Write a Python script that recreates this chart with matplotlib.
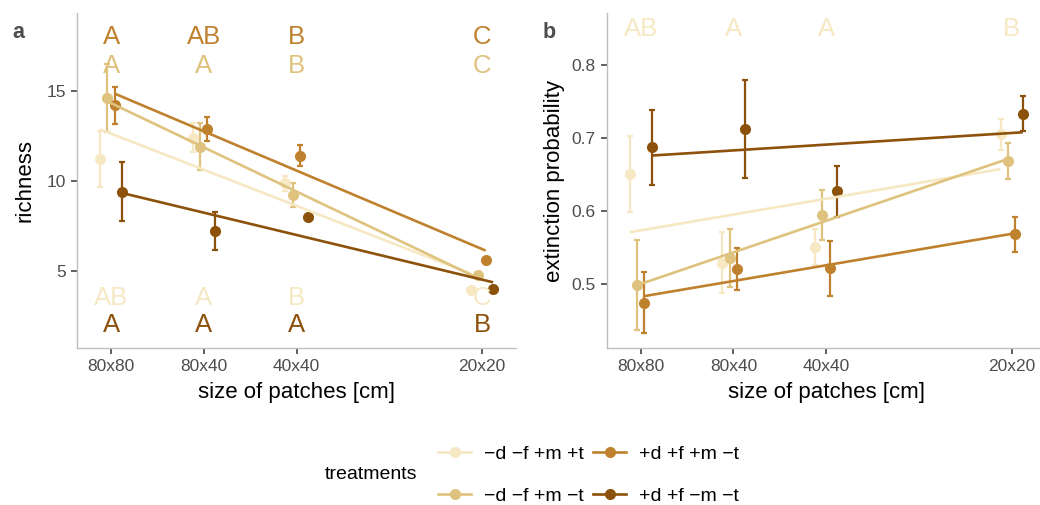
import numpy as np
import matplotlib
matplotlib.use("Agg")
import matplotlib.pyplot as plt
from matplotlib.lines import Line2D

plt.rcParams['font.family'] = ['Liberation Sans', 'DejaVu Sans']

# ---------------- data ----------------
sizes = ["80x80", "80x40", "40x40", "20x20"]
size_pos = [0, 1, 2, 4]            # log2 area steps
treatments = ["\u2212d \u2212f +m +t", "\u2212d \u2212f +m \u2212t",
              "+d +f +m \u2212t", "+d +f \u2212m \u2212t"]
colors = ["#F6E8C3", "#DFC27D", "#BF812D", "#8C510A"]
dodge = [-0.12, -0.04, 0.04, 0.12]

rich_mean = [
    [11.2, 12.4, 9.85, 3.95],
    [14.6, 11.9, 9.2, 4.75],
    [14.2, 12.9, 11.4, 5.6],
    [9.4, 7.2, 8.0, 4.0],
]
rich_err = [
    [1.55, 0.8, 0.4, 0.0],
    [1.9, 1.3, 0.65, 0.0],
    [1.03, 0.67, 0.58, 0.0],
    [1.62, 1.07, 0.0, 0.0],
]
ext_mean = [
    [0.650, 0.529, 0.550, 0.705],
    [0.498, 0.535, 0.594, 0.668],
    [0.474, 0.520, 0.521, 0.568],
    [0.687, 0.712, 0.627, 0.733],
]
ext_err = [
    [0.052, 0.042, 0.025, 0.021],
    [0.062, 0.040, 0.034, 0.025],
    [0.042, 0.029, 0.038, 0.024],
    [0.051, 0.067, 0.035, 0.024],
]

# letters: (treatment index, y position, labels)
rich_letters = [
    (2, 18.0, ["A", "AB", "B", "C"]),
    (1, 16.4, ["A", "A", "B", "C"]),
    (0, 3.5, ["AB", "A", "B", "C"]),
    (3, 2.0, ["A", "A", "A", "B"]),
]
ext_letters = [
    (0, 0.85, ["AB", "A", "A", "B"]),
]

# ---------------- figure ----------------
W, H = 1040, 505
fig = plt.figure(figsize=(W / 100, H / 100), dpi=100)

def ax_rect(l, r, t, b):
    return [l / W, 1 - b / H, (r - l) / W, (b - t) / H]

axA = fig.add_axes(ax_rect(77, 516, 13, 348))
axB = fig.add_axes(ax_rect(606.7, 1045.7, 13, 348))

def draw(ax, means, errs, letters, ylim, yticks, ylabel):
    for i in range(4):
        xs = np.array(size_pos) + dodge[i]
        m = np.array(means[i])
        e = np.array(errs[i])
        ax.errorbar(xs, m, yerr=e, fmt='none', ecolor=colors[i],
                    elinewidth=1.6, capsize=2.2, capthick=1.6, zorder=2)
        ax.plot(xs, m, 'o', color=colors[i], markersize=8, zorder=3,
                markeredgewidth=0)
    for i in range(4):
        slope, inter = np.polyfit(np.array(size_pos, float), np.array(means[i]), 1)
        xe = np.array([size_pos[0], size_pos[-1]], float)
        ax.plot(xe + dodge[i], inter + slope * xe, '-', color=colors[i],
                lw=1.9, zorder=4, solid_capstyle='butt')
    for (ti, yy, labs) in letters:
        for x, lab in zip(size_pos, labs):
            ax.text(x, yy, lab, color=colors[ti], fontsize=18.5,
                    ha='center', va='center', zorder=5)
    ax.set_xlim(-0.367, 4.367)
    ax.set_ylim(*ylim)
    ax.set_xticks(size_pos)
    ax.set_xticklabels(sizes)
    ax.set_yticks(yticks)
    for s in ['top', 'right']:
        ax.spines[s].set_visible(False)
    for s in ['left', 'bottom']:
        ax.spines[s].set_color('#BEBEBE')
        ax.spines[s].set_linewidth(1.0)
    ax.tick_params(axis='both', length=4.5, width=1.1, color='#333333',
                   labelcolor='#4D4D4D', labelsize=12.5, pad=3.5)
    ax.set_xlabel("size of patches [cm]", fontsize=16, color='black')
    ax.set_ylabel(ylabel, fontsize=16, color='black')
    ax.xaxis.set_label_coords(0.5, -0.102)
    ax.yaxis.set_label_coords(-0.095, 0.5)
    ax.set_facecolor('white')
    return ax

draw(axA, rich_mean, rich_err, rich_letters, (0.71, 19.32), [5, 10, 15],
     "richness")
draw(axB, ext_mean, ext_err, ext_letters, (0.4118, 0.8713),
     [0.5, 0.6, 0.7, 0.8], "extinction probability")
axB.set_yticklabels(["0.5", "0.6", "0.7", "0.8"])

fig.text(12 / W, 1 - 32 / H, "a", fontsize=15.5, fontweight='bold',
         color='#4D4D4D', ha='left', va='center')
fig.text(543 / W, 1 - 32 / H, "b", fontsize=15.5, fontweight='bold',
         color='#4D4D4D', ha='left', va='center')

# legend
handles = [Line2D([0], [0], color=c, lw=1.9, marker='o', markersize=8,
                  markeredgewidth=0) for c in colors]
leg = fig.legend(handles, treatments, ncol=2, frameon=False,
                 loc='center left', bbox_to_anchor=(438 / W, 1 - 475 / H),
                 fontsize=14, handlelength=1.7, handletextpad=0.65,
                 columnspacing=0.5, labelspacing=1.25, borderpad=0,
                 borderaxespad=0)
fig.text(325 / W, 1 - 474.5 / H, "treatments", fontsize=14,
         ha='left', va='center')

fig.savefig("out.png", dpi=100, facecolor='white')
